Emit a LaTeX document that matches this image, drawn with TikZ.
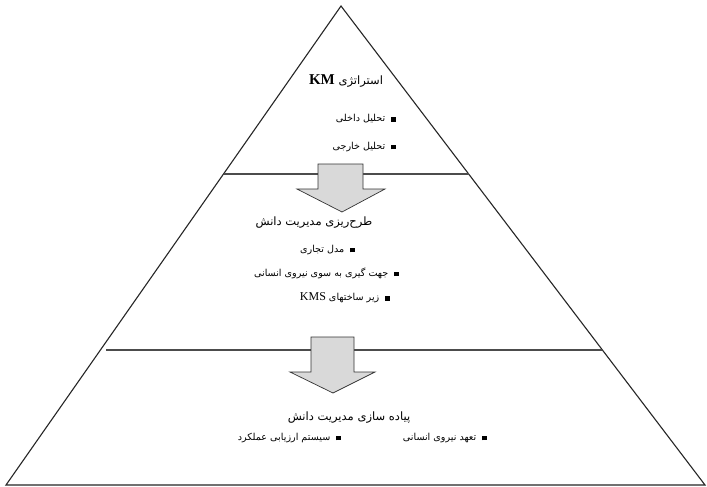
\documentclass[tikz,border=0pt]{standalone}
\usepackage{fontspec}
\usetikzlibrary{calc}
\TeXXeTstate=1
\newfontfamily\fa[Script=Arabic]{DejaVu Sans}
\newfontfamily\lat{Liberation Serif}
\newcommand{\blt}{\rule{4.5pt}{4.5pt}\hspace{6pt}}
\tikzset{
  edge/.style={draw=black!85, line width=1.1pt, line join=miter},
  sepline/.style={draw=black!70, line width=1.4pt},
  blockarrow/.style={draw=black!80, line width=0.7pt, fill=black!15},
  head/.style={font=\fa\fontsize{11.5}{13}\selectfont, inner sep=0pt},
  item/.style={font=\fa\fontsize{9.6}{11}\selectfont, inner sep=0pt, anchor=east}
}
\begin{document}
\begin{tikzpicture}[x=1pt,y=-1pt]
\useasboundingbox[fill=white] (0,0) rectangle (707,487);
\coordinate (A) at (341,6);
\coordinate (BL) at (6,485);
\coordinate (BR) at (705,485);
\draw[edge] (A) -- (BL) -- (BR) -- cycle;
% separator lines
\coordinate (L1a) at ($(A)!0.3507!(BL)$);
\coordinate (L1b) at ($(A)!0.3507!(BR)$);
\coordinate (L2a) at ($(A)!0.7182!(BL)+(6,0)$);
\coordinate (L2b) at ($(A)!0.7182!(BR)$);
\draw[sepline] (L1a) -- (L1b);
\draw[sepline] (L2a) -- (L2b);
% block arrows
\draw[blockarrow] (318,164) -- (363,164) -- (363,189) -- (385,189) -- (342,212) -- (297,189) -- (318,189) -- cycle;
\draw[blockarrow] (311,337) -- (354,337) -- (354,372) -- (375,372) -- (333,393) -- (290,372) -- (311,372) -- cycle;
% level 1
\node[head] (t1) at (346,81) {\beginR استراتژی \beginL{\lat\bfseries\fontsize{15}{16}\selectfont KM}\endL\endR};
\node[item] (i11) at (396,119) {\beginR\blt تحلیل داخلی\endR};
\node[item] (i12) at (396,147) {\beginR\blt تحلیل خارجی\endR};
% level 2
\node[head] (t2) at (314,223) {\beginR طرح‌ریزی مدیریت دانش\endR};
\node[item] (i21) at (355,250) {\beginR\blt مدل تجاری\endR};
\node[item] (i22) at (399,273) {\beginR\blt جهت گیری به سوی نیروی انسانی\endR};
\node[item] (i23) at (390,298) {\beginR\blt زیر ساختهای \beginL{\lat\fontsize{12}{13}\selectfont KMS}\endL\endR};
% level 3
\node[head] (t3) at (349,418) {\beginR پیاده سازی مدیریت دانش\endR};
\node[item] (i31) at (487,438) {\beginR\blt تعهد نیروی انسانی\endR};
\node[item] (i32) at (341,438) {\beginR\blt سیستم ارزیابی عملکرد\endR};
\end{tikzpicture}
\end{document}
